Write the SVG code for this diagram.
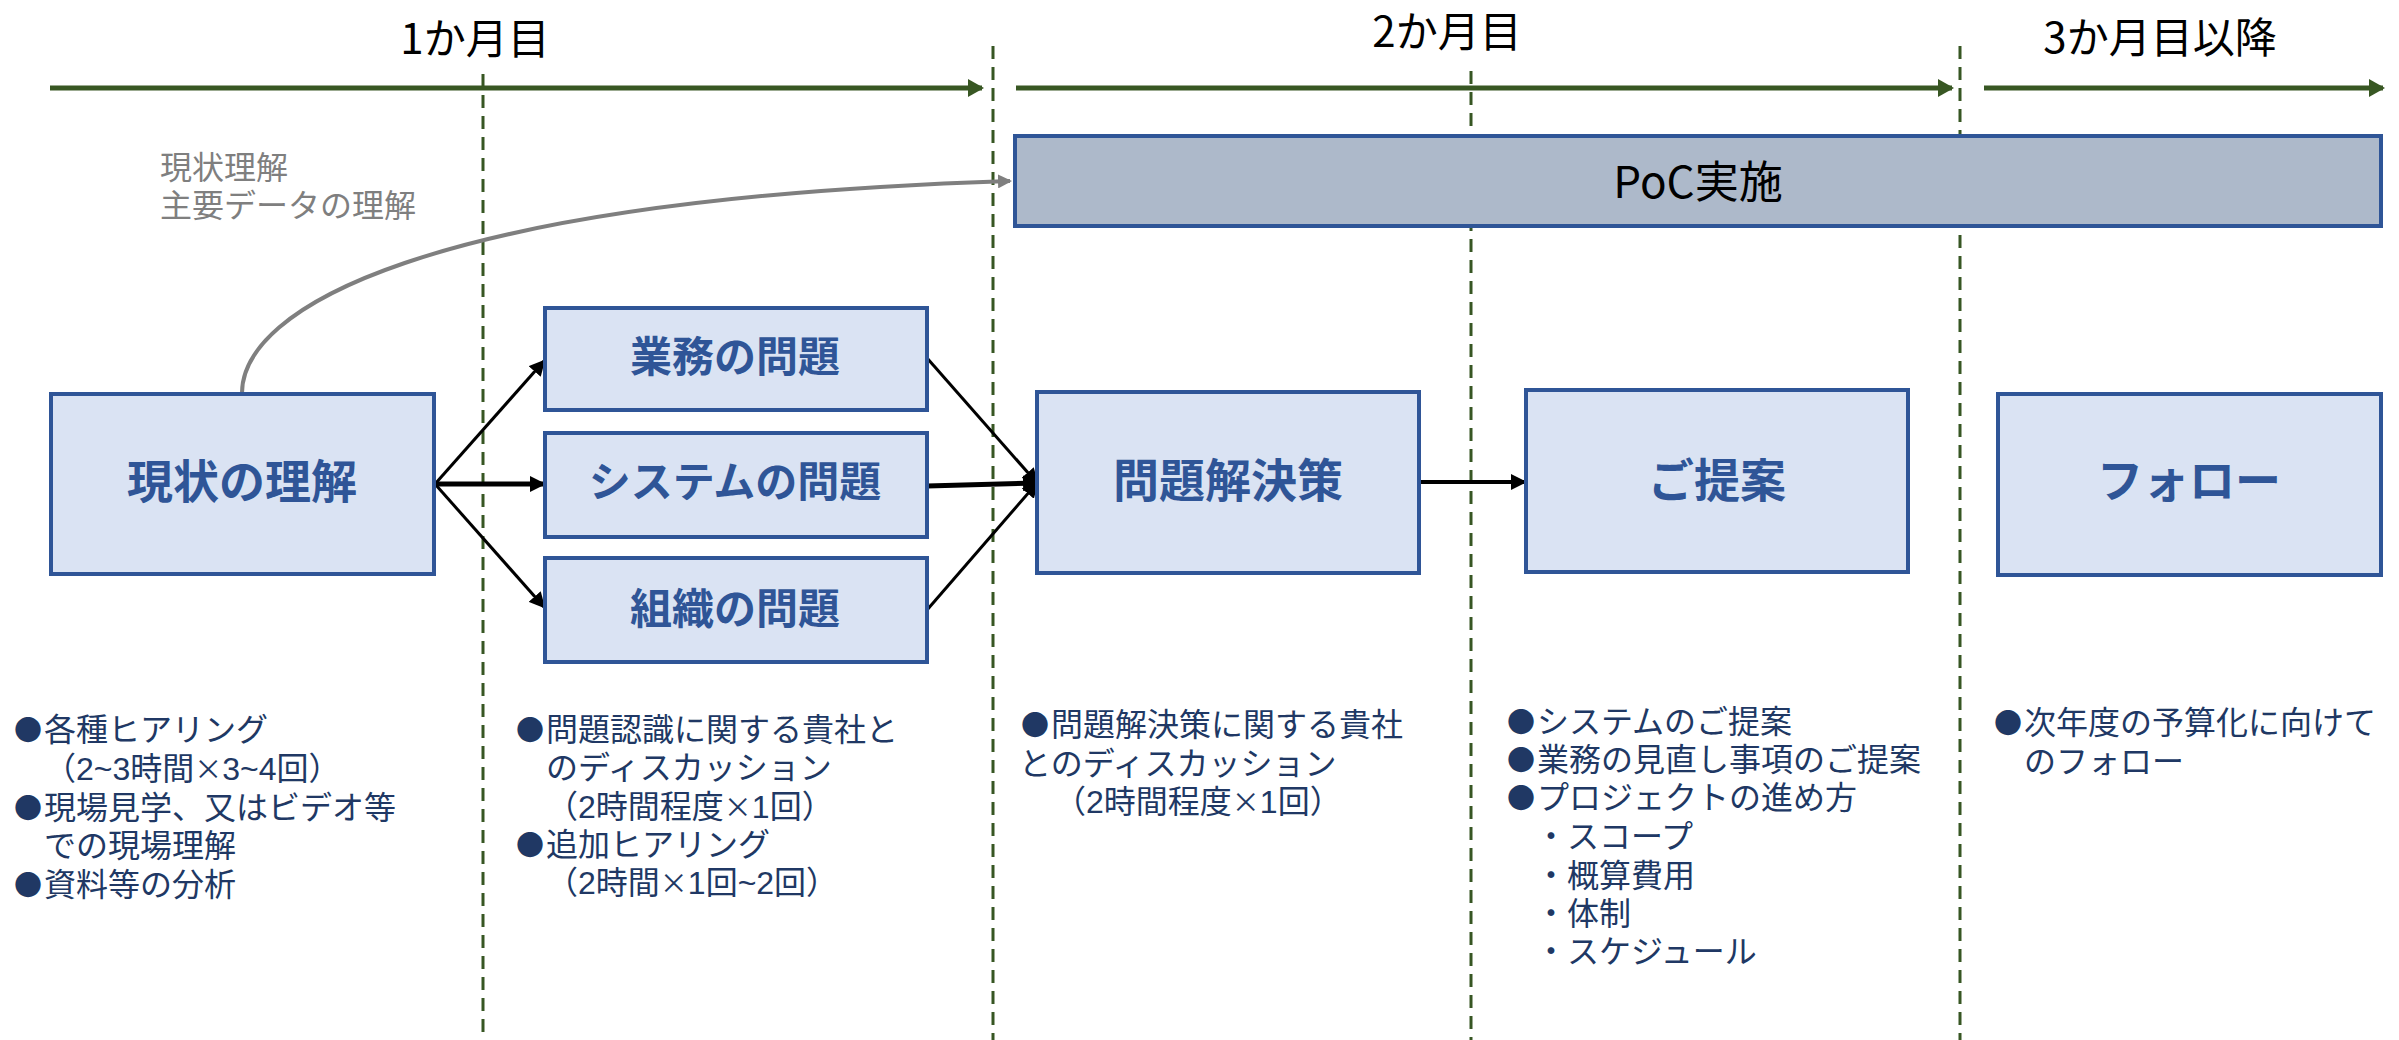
<svg xmlns="http://www.w3.org/2000/svg" width="2399" height="1040" viewBox="0 0 2399 1040">
<style>
text{font-family:"Noto Sans CJK JP","Noto Sans",sans-serif}
.title{font-size:42px;fill:#000;text-anchor:middle;dominant-baseline:central}
.node rect{fill:#dae3f3;stroke:#2f5597;stroke-width:4}
.node text{font-weight:700;fill:#2f5597;text-anchor:middle;dominant-baseline:central}
.big{font-size:46px}
.small{font-size:42px}
.body,.gray{font-family:"Liberation Sans","Noto Sans CJK JP",sans-serif;font-size:32px}
.body{fill:#203864}
.gray{fill:#7f7f7f}
.c{font-family:"Noto Sans CJK JP",sans-serif;font-size:28px}
.tl{stroke:#385723;stroke-width:5;fill:none}
.dash{stroke:#375623;stroke-width:3;stroke-dasharray:13 8;fill:none}
.blk{stroke:#000;fill:none}
</style>
<defs>
<marker id="ag" markerUnits="userSpaceOnUse" markerWidth="16" markerHeight="18" refX="14" refY="9" orient="auto"><path d="M0,0 L16,9 L0,18 Z" fill="#385723"/></marker>
<marker id="ab" markerUnits="userSpaceOnUse" markerWidth="16" markerHeight="16" refX="14" refY="8" orient="auto"><path d="M0,0 L16,8 L0,16 Z" fill="#000"/></marker>
<marker id="agr" markerUnits="userSpaceOnUse" markerWidth="14" markerHeight="14" refX="12" refY="7" orient="auto"><path d="M0,0 L14,7 L0,14 Z" fill="#7f7f7f"/></marker>
</defs>

<g id="timeline">
<text class="title" x="475" y="35">1か月目</text>
<text class="title" x="1447" y="28">2か月目</text>
<text class="title" x="2160" y="34">3か月目以降</text>
<line class="tl" x1="50" y1="88" x2="982" y2="88" marker-end="url(#ag)"/>
<line class="tl" x1="1016" y1="88" x2="1952" y2="88" marker-end="url(#ag)"/>
<line class="tl" x1="1984" y1="88" x2="2383" y2="88" marker-end="url(#ag)"/>
<line class="dash" x1="483" y1="74" x2="483" y2="1040"/>
<line class="dash" x1="993" y1="46" x2="993" y2="1040"/>
<line class="dash" x1="1471" y1="71" x2="1471" y2="1040"/>
<line class="dash" x1="1960" y1="46" x2="1960" y2="1040"/>
</g>

<g id="poc" class="node">
<rect x="1015" y="136" width="1366" height="90" style="fill:#adb9ca"/>
<text x="1698" y="179" style="font-size:44px;font-weight:400;fill:#000">PoC実施</text>
</g>

<g id="connectors">
<path d="M242,393 C242,310 420,200 1010,181" stroke="#7f7f7f" stroke-width="4" fill="none" marker-end="url(#agr)"/>
<line class="blk" stroke-width="3" x1="435" y1="484" x2="544" y2="361" marker-end="url(#ab)"/>
<line class="blk" stroke-width="5" x1="435" y1="484" x2="544" y2="484" marker-end="url(#ab)"/>
<line class="blk" stroke-width="3" x1="435" y1="484" x2="544" y2="607" marker-end="url(#ab)"/>
<line class="blk" stroke-width="3" x1="927" y1="358" x2="1037" y2="483" marker-end="url(#ab)"/>
<line class="blk" stroke-width="5" x1="927" y1="486" x2="1037" y2="483" marker-end="url(#ab)"/>
<line class="blk" stroke-width="3" x1="927" y1="610" x2="1037" y2="483" marker-end="url(#ab)"/>
<line class="blk" stroke-width="4" x1="1419" y1="482" x2="1525" y2="482" marker-end="url(#ab)"/>
</g>

<g id="n-genjo" class="node"><rect x="51" y="394" width="383" height="180"/><text class="big" x="242" y="478">現状の理解</text></g>
<g id="n-gyomu" class="node"><rect x="545" y="308" width="382" height="102"/><text class="small" x="735" y="353">業務の問題</text></g>
<g id="n-system" class="node"><rect x="545" y="433" width="382" height="104"/><text class="small" x="735" y="478">システムの問題</text></g>
<g id="n-soshiki" class="node"><rect x="545" y="558" width="382" height="104"/><text class="small" x="735" y="605">組織の問題</text></g>
<g id="n-kaiketsu" class="node"><rect x="1037" y="392" width="382" height="181"/><text class="big" x="1228" y="477">問題解決策</text></g>
<g id="n-teian" class="node"><rect x="1526" y="390" width="382" height="182"/><text class="big" x="1717" y="477">ご提案</text></g>
<g id="n-follow" class="node"><rect x="1998" y="394" width="383" height="181"/><text class="big" x="2189" y="477">フォロー</text></g>

<g id="notes">
<text class="gray"><tspan x="160" y="179">現状理解</tspan><tspan x="160" y="217">主要データの理解</tspan></text>

<text class="body"><tspan x="14" y="741"><tspan class="c">●</tspan><tspan dx="2">各種ヒアリング</tspan></tspan><tspan x="44" y="780">（2~3時間<tspan class="c">×</tspan>3~4回）</tspan><tspan x="14" y="819"><tspan class="c">●</tspan><tspan dx="2">現場見学、又はビデオ等</tspan></tspan><tspan x="44" y="857">での現場理解</tspan><tspan x="14" y="896"><tspan class="c">●</tspan><tspan dx="2">資料等の分析</tspan></tspan></text>

<text class="body"><tspan x="516" y="741"><tspan class="c">●</tspan><tspan dx="2">問題認識に関する貴社と</tspan></tspan><tspan x="546" y="779">のディスカッション</tspan><tspan x="546" y="818">（2時間程度<tspan class="c">×</tspan>1回）</tspan><tspan x="516" y="856"><tspan class="c">●</tspan><tspan dx="2">追加ヒアリング</tspan></tspan><tspan x="546" y="894">（2時間<tspan class="c">×</tspan>1回~2回）</tspan></text>

<text class="body"><tspan x="1021" y="736"><tspan class="c">●</tspan><tspan dx="2">問題解決策に関する貴社</tspan></tspan><tspan x="1019" y="775">とのディスカッション</tspan><tspan x="1054" y="813">（2時間程度<tspan class="c">×</tspan>1回）</tspan></text>

<text class="body"><tspan x="1507" y="733"><tspan class="c">●</tspan><tspan dx="2">システムのご提案</tspan></tspan><tspan x="1507" y="771"><tspan class="c">●</tspan><tspan dx="2">業務の見直し事項のご提案</tspan></tspan><tspan x="1507" y="809"><tspan class="c">●</tspan><tspan dx="2">プロジェクトの進め方</tspan></tspan><tspan x="1535" y="848">・スコープ</tspan><tspan x="1535" y="887">・概算費用</tspan><tspan x="1535" y="925">・体制</tspan><tspan x="1535" y="963">・スケジュール</tspan></text>

<text class="body"><tspan x="1994" y="734"><tspan class="c">●</tspan><tspan dx="2">次年度の予算化に向けて</tspan></tspan><tspan x="2024" y="773">のフォロー</tspan></text>
</g>
</svg>
